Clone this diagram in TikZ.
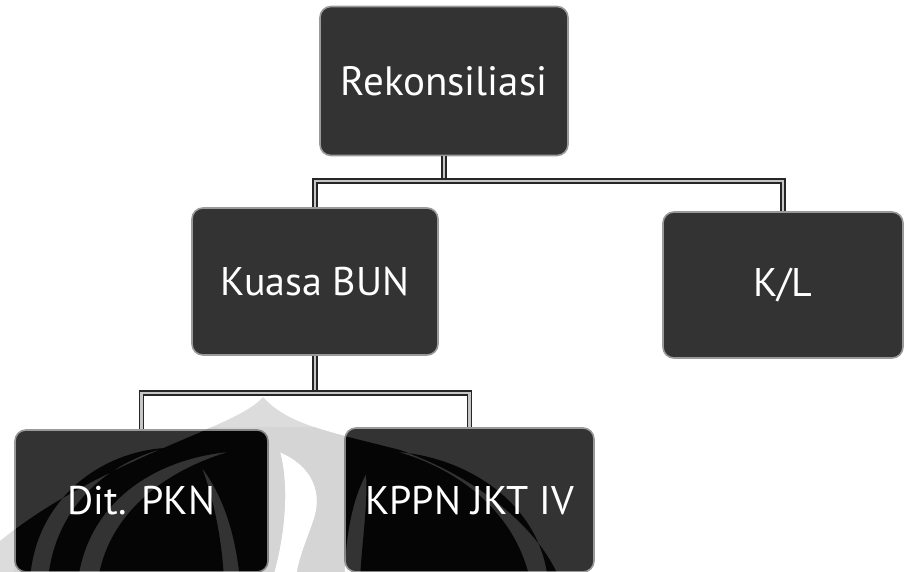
\documentclass[tikz,border=0pt]{standalone}
\usepackage{fontspec}
\setmainfont{PT Sans}
\definecolor{boxfill}{HTML}{333333}
\definecolor{boxedge}{HTML}{9A9A9A}
\definecolor{wmgray}{HTML}{DCDCDC}
\definecolor{burngray}{HTML}{D0D0D0}
\newcommand\uilogo{%
  (263,397) .. controls (238,428) and (100,458) .. (-5,545) -- (-5,580) -- (560,580)
    .. controls (540,530) and (480,478) .. (400,450) .. controls (330,432) and (288,425) .. (263,397) -- cycle
  (280,452) .. controls (312,466) and (324,492) .. (313,522) .. controls (305,545) and (298,560) .. (296,580)
    -- (272,580) .. controls (284,540) and (290,490) .. (280,452) -- cycle
  (30,580) .. controls (35,500) and (100,452) .. (165,448) .. controls (110,462) and (55,505) .. (48,580) -- cycle
  (78,580) .. controls (88,505) and (150,460) .. (228,452) .. controls (162,472) and (108,515) .. (98,580) -- cycle
  (202,468) .. controls (226,500) and (236,540) .. (240,580) -- (224,580) .. controls (222,540) and (214,500) .. (202,468) -- cycle
  (548,580) .. controls (540,505) and (470,458) .. (398,452) .. controls (455,468) and (515,510) .. (530,580) -- cycle
  (366,474) .. controls (350,505) and (346,540) .. (344,580) -- (360,580) .. controls (362,540) and (368,505) .. (366,474) -- cycle
}
\begin{document}
\begin{tikzpicture}[x=1pt,y=-1pt,
  orgbox/.style={rectangle, rounded corners=11pt, fill=boxfill, draw=boxedge,
    line width=1.6pt, text=white, inner sep=0pt, font=\fontsize{40}{44}\selectfont},
  conn/.style={draw=black!85, line width=1.5pt, double=gray!45, double distance=2.6pt}]
\useasboundingbox (0,0) rectangle (904,572);
% faint watermark behind
\fill[wmgray, even odd rule] \uilogo;
% nodes
\node[orgbox, minimum width=248pt, minimum height=149pt, font=\fontsize{41}{46}\selectfont] (rek) at (444,81) {Rekonsiliasi};
\node[orgbox, minimum width=246pt, minimum height=147pt] (kuasa) at (315,281.5) {Kuasa BUN};
\node[orgbox, minimum width=240pt, minimum height=146pt] (kl) at (783,285) {K/L};
\node[orgbox, minimum width=253pt, minimum height=142pt] (dit) at (141.5,501) {Dit. PKN};
\node[orgbox, minimum width=249pt, minimum height=144pt] (kppn) at (469.5,500) {KPPN JKT IV};
% watermark darkening the boxes (white stays white under colour burn)
\begin{scope}[blend mode=color burn]
  \clip (dit.south west) rectangle (kppn.north east);
  \fill[burngray, even odd rule] \uilogo;
\end{scope}
% connectors
\coordinate (j1) at (444,181);
\coordinate (j2) at (315,393);
\draw[conn] (rek.south) -- (j1);
\draw[conn] (kuasa.north) |- (j1) -| (kl.north);
\draw[conn] (kuasa.south) -- (j2);
\draw[conn] (dit.north) |- (j2) -| (kppn.north);
\end{tikzpicture}
\end{document}
